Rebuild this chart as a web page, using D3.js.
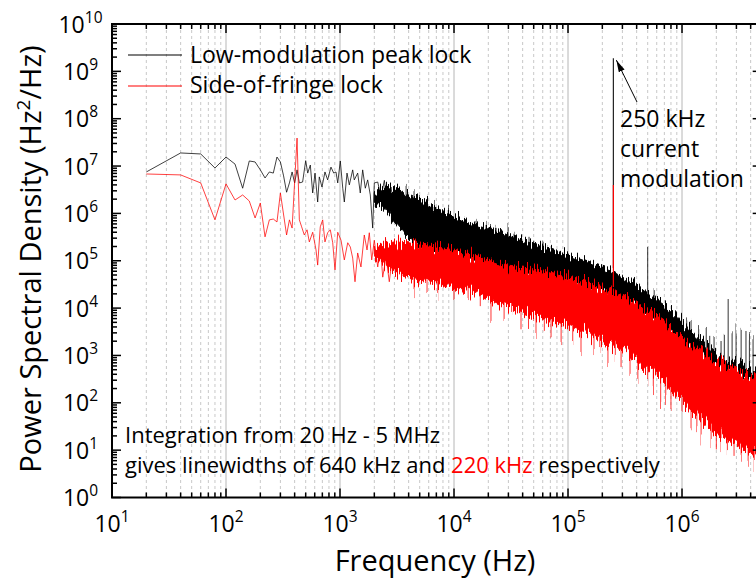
<!DOCTYPE html>
<html><head><meta charset="utf-8">
<script src="https://cdn.jsdelivr.net/npm/d3@7"></script>
<style>
body{margin:0;background:#fff}
svg{display:block}
text{font-family:"Open Sans","Noto Sans",sans-serif;fill:#000}
</style>
</head><body>
<svg id="chart" width="756" height="582"></svg>
<script>
// ---------------- data ----------------
const xDecades = [1e1, 1e2, 1e3, 1e4, 1e5, 1e6];
const xDecadeExp = ["1", "2", "3", "4", "5", "6"];
const yDecades = [1e0, 1e1, 1e2, 1e3, 1e4, 1e5, 1e6, 1e7, 1e8, 1e9, 1e10];
const yDecadeExp = ["0", "1", "2", "3", "4", "5", "6", "7", "8", "9", "10"];
const minorMultipliers = [2, 3, 4, 5, 6, 7, 8, 9];

const seriesNames = ["Low-modulation peak lock", "Side-of-fringe lock"];
const seriesColors = ["#000000", "#ff0000"];

// low-frequency resolved trace, black (Hz, Hz^2/Hz)
const blackLineF = [20,40,60,80,100,120,140,160,180,200,220,240,260,280,300,320,340,360,380,400,420,440,470,500,521,549,576,604,637,658,695,738,779,833,881,922,955,1006,1057,1091,1152,1207,1292,1334,1429,1506,1581,1667,1749,1844,1935,2000,2142,2290,2450,2600,2800,3000];
const blackLineP = [7.5e6,1.89e7,1.8e7,9.1e6,1.55e7,1.1e7,3.4e6,1.28e7,1.22e7,8.3e6,5.6e6,7.5e6,7.1e6,1.55e7,1.22e7,6.2e6,2.8e6,4.4e6,7.5e6,4.4e6,8.3e6,4.4e6,4.6e6,1.3e7,7.1e6,1.05e7,2.7e6,7.1e6,1.74e6,5.9e6,3.6e6,7.5e6,5.1e6,9.5e6,7.1e6,7.5e6,4.4e6,1.28e7,3.4e6,1.74e6,7.1e6,4.0e6,8.3e6,5.1e6,7.1e6,2.7e6,8.3e6,3.4e6,5.1e6,2.45e6,4.9e5,4.4e6,4.6e6,2.2e6,5.0e6,1.5e6,3.6e6,1.2e6];

// low-frequency resolved trace, red
const redLineF = [20,40,60,80,100,120,140,160,180,200,220,240,260,280,300,340,360,380,420,440,461,486,514,538,576,616,637,671,705,738,779,822,863,904,955,1021,1091,1169,1232,1292,1354,1429,1527,1633,1726,1807,1897,2000,2142,2259,2371,2535,2706,2994,3206,3428];
const redLineP = [6.8e6,6.5e6,4.4e6,7.3e5,4.2e6,1.92e6,2.45e6,1.83e6,8.0e5,1.66e6,3.2e5,7.3e5,7.6e5,6.6e5,2.7e6,3.5e5,7.3e5,4.9e5,3.9e7,7.3e5,5.2e5,3.5e5,4.5e5,2.5e5,4.0e5,1.69e5,8.1e4,5.2e5,7.3e5,2.5e5,3.9e5,4.5e5,2.4e5,6.4e4,4.0e5,2.7e5,1.04e5,2.4e5,1.95e5,1.14e5,3.6e4,1.46e5,7.4e4,3.5e5,1.69e5,3.9e5,1.04e5,2.7e5,7.4e4,1.95e5,4.5e4,1.2e5,3.6e4,2.5e5,7.4e4,1.69e5];

// dense high-frequency noise band (upper / lower envelopes)
const bandF = [2e3,2.5e3,3e3,4e3,5e3,6e3,7e3,8e3,1e4,1.2e4,1.5e4,2e4,2.5e4,3e4,4e4,5e4,6e4,7e4,8e4,1e5,1.2e5,1.5e5,2e5,2.5e5,3e5,4e5,5e5,6e5,7e5,8e5,1e6,1.2e6,1.5e6,2e6,2.5e6,3e6,4e6,5e6];
const blackHi = [3.2e6,3.6e6,3.3e6,2.45e6,1.92e6,1.5e6,1.18e6,1.02e6,9.2e5,7.3e5,6.0e5,4.9e5,4.0e5,3.5e5,2.7e5,2.26e5,1.95e5,1.77e5,1.6e5,1.32e5,1.14e5,9.4e4,7.0e4,5.8e4,4.5e4,3.1e4,2.0e4,1.48e4,1.16e4,9.1e3,5.1e3,3.1e3,1.92e3,1.07e3,8.0e2,6.6e2,5.4e2,4.9e2];
const blackLo = [1.9e6,1.2e6,6.5e5,2.9e5,2.0e5,1.6e5,1.46e5,1.39e5,1.26e5,1.09e5,9.4e4,7.7e4,6.4e4,5.8e4,5.2e4,4.8e4,4.5e4,4.1e4,3.7e4,3.4e4,3.1e4,2.7e4,2.1e4,1.63e4,1.28e4,9.6e3,6.5e3,4.8e3,3.8e3,2.8e3,1.66e3,1.18e3,8.4e2,5.7e2,4.5e2,3.7e2,2.75e2,2.26e2];
const redHi = [1.9e5,2.3e5,2.5e5,2.4e5,2.15e5,2.05e5,1.95e5,1.86e5,1.69e5,1.46e5,1.26e5,1.04e5,8.5e4,7.7e4,7.0e4,6.4e4,6.1e4,5.5e4,5.0e4,4.5e4,4.1e4,3.6e4,2.8e4,2.2e4,1.7e4,1.28e4,8.7e3,6.5e3,5.1e3,3.8e3,2.2e3,1.58e3,1.13e3,7.6e2,6.0e2,4.9e2,3.7e2,3.0e2];
const redLo = [1.2e5,8.0e4,5.8e4,4.5e4,3.9e4,3.6e4,3.4e4,3.1e4,2.7e4,2.4e4,2.1e4,1.63e4,1.28e4,1.1e4,8.3e3,6.8e3,5.9e3,5.3e3,4.8e3,4.2e3,3.6e3,3.0e3,2.1e3,1.58e3,1.24e3,8.0e2,5.4e2,3.7e2,2.75e2,1.86e2,1.04e2,70,43,24,16,12.8,9.1,7.5];

// individual noise spikes sticking out of the bands
const blackSpikeF = [3.8e3,4.46e3,6.7e3,8.9e3,1.56e4,1.91e4,2.34e4,2.98e4,3.36e4,4.55e4,5.0e4,6.04e4,8.2e4,1.13e5,1.44e5,1.83e5,2.75e5,3.36e5,3.8e5,5.0e5,5.7e5,8.0e5,1.1e6,1.2e6,1.4e6,1.63e6,1.75e6,1.91e6,2.2e6,2.35e6,2.54e6,2.75e6,2.98e6,3.3e6,3.64e6,3.9e6,4.2e6,4.6e6];
const blackSpikeTip = [4.4e6,3.1e6,1.66e6,1.18e6,7.3e5,6.3e5,5.2e5,5.7e5,3.9e5,3.2e5,2.5e5,2.4e5,1.69e5,1.2e5,9.0e4,8.1e4,4.5e4,3.6e4,3.4e4,1.95e5,2.4e4,9.1e3,5.5e3,5.1e3,3.6e3,4.4e3,3.0e3,2.45e3,1.83e3,2.6e3,1.48e4,2.8e3,3.4e3,3.0e3,3.8e3,2.2e3,3.1e3,2.6e3];
const blackSpikeBase = [5e5,4e5,1.5e5,1.3e5,9e4,8e4,7e4,6e4,5.5e4,4.8e4,4.8e4,4.5e4,3.7e4,3.2e4,2.8e4,2.3e4,1.5e4,1.2e4,1.0e4,6.5e3,5.5e3,2.8e3,1.4e3,1.2e3,9e2,8e2,7e2,6e2,5.5e2,5e2,4.5e2,4e2,3.7e2,3.3e2,3e2,2.8e2,2.5e2,2.3e2];
const redSpikeF = [4.46e3,5.8e3,7.2e3,1.0e4,1.33e4,1.7e4,2.11e4,2.75e4,3.2e4,3.87e4,4.5e4,5.24e4,6.2e4,7.1e4,8.7e4,1.1e5,1.3e5,1.69e5,1.9e5,2.24e5,2.6e5,2.92e5,3.5e5,4.1e5,5.0e5,5.6e5,6.5e5,7.2e5,8.0e5,1.0e6,1.2e6,1.35e6,1.47e6,1.8e6,2.0e6,2.2e6,2.5e6,2.86e6,3.3e6,3.8e6,4.3e6,4.7e6];
const redSpikeTip = [2.4e4,1.8e4,1.9e4,1.63e4,1.16e4,1.1e4,6.2e3,5.1e3,6.2e3,3.4e3,4.2e3,2.7e3,3.0e3,2.1e3,1.92e3,1.92e3,1.3e3,1.18e3,1.18e3,8.0e2,7.3e2,5.4e2,4.5e2,3.7e2,2.75e2,1.86e2,90,1.04e2,64,48,29,24,16,12.8,12,11.6,9.1,7.2,6.9,5.4,4.2,4.6];
const redSpikeBase = [6e4,5e4,4.5e4,4e4,3.5e4,3e4,2.5e4,2e4,1.8e4,1.5e4,1.3e4,1.2e4,1.1e4,1e4,9e3,8e3,7e3,6e3,5.5e3,5e3,4e3,3.5e3,3e3,2e3,1.5e3,1.2e3,9e2,8e2,6e2,4e2,2.5e2,2e2,1.5e2,1e2,80,70,50,40,35,30,25,22];

// 250 kHz current-modulation line
const modF = 2.5e5;
const blackModTip = 1.9e9, blackModBase = 7e4;
const redModTip = 4.0e6, redModBase = 2.8e4;

const annotationLines = ["250 kHz", "current", "modulation"];
const noteLine1 = "Integration from 20 Hz - 5 MHz";
const noteLine2 = ["gives linewidths of 640 kHz and ", "220 kHz", " respectively"];

// ---------------- drawing ----------------
const svg = d3.select("#chart");
const L = 112, T = 24, B = 497.5, R = 761.7;
const x = d3.scaleLog().domain([10, 5e6]).range([L, R]);
const y = d3.scaleLog().domain([1, 1e10]).range([B, T]);

const xMinors = [];
xDecades.forEach(d => minorMultipliers.forEach(m => { if (d * m <= 5e6) xMinors.push(d * m); }));
const yMinors = [];
yDecades.slice(0, -1).forEach(d => minorMultipliers.forEach(m => yMinors.push(d * m)));

const defs = svg.append("defs");
defs.append("clipPath").attr("id", "plotclip")
  .append("rect").attr("x", L).attr("y", T).attr("width", R - L).attr("height", B - T);
const marker = defs.append("marker").attr("id", "arrow")
  .attr("viewBox", "0 0 12 8").attr("refX", 12).attr("refY", 4)
  .attr("markerWidth", 12).attr("markerHeight", 8).attr("markerUnits", "userSpaceOnUse")
  .attr("orient", "auto");
marker.append("path").attr("d", "M0,0.8 L12,4 L0,7.2 Z").attr("fill", "#000");

// texture filter: column-wise vertical jitter so the dense band edges look like spectral noise
function noiseFilter(id, seed, scale) {
  const f = defs.append("filter").attr("id", id).attr("filterUnits", "userSpaceOnUse")
    .attr("x", 0).attr("y", 0).attr("width", 756).attr("height", 582);
  f.append("feTurbulence").attr("type", "fractalNoise").attr("baseFrequency", "0.7 0.004")
    .attr("numOctaves", 2).attr("seed", seed).attr("result", "n");
  f.append("feColorMatrix").attr("in", "n").attr("type", "matrix")
    .attr("values", "0 0 0 0 0.5  0 1 0 0 0  0 0 1 0 0  0 0 0 0 1").attr("result", "m");
  f.append("feDisplacementMap").attr("in", "SourceGraphic").attr("in2", "m")
    .attr("scale", scale).attr("xChannelSelector", "R").attr("yChannelSelector", "G");
}
noiseFilter("noiseK", 3, 26);
noiseFilter("noiseR", 7, 30);

// grid
const grid = svg.append("g");
grid.selectAll("line.minor").data(xMinors).join("line")
  .attr("x1", d => x(d)).attr("x2", d => x(d)).attr("y1", T).attr("y2", B)
  .attr("stroke", "#c8c8c8").attr("stroke-width", 1).attr("stroke-dasharray", "3,3");
grid.selectAll("line.major").data(xDecades.slice(1)).join("line")
  .attr("x1", d => x(d)).attr("x2", d => x(d)).attr("y1", T).attr("y2", B)
  .attr("stroke", "#cfcfcf").attr("stroke-width", 1.5);

const plot = svg.append("g").attr("clip-path", "url(#plotclip)");
const line = d3.line().x(d => x(d[0])).y(d => y(d[1]));
const area = d3.area().x(d => x(d[0])).y0(d => y(d[1])).y1(d => y(d[2]));

function drawSeries(color, filterId, lf, lp, lo, hi, sf, stip, sbase, modTip, modBase, modColor) {
  const g = plot.append("g");
  g.append("line").attr("x1", x(modF)).attr("x2", x(modF))
    .attr("y1", y(modTip)).attr("y2", y(modBase))
    .attr("stroke", modColor).attr("stroke-width", 1.2);
  g.append("path").datum(d3.zip(lf, lp)).attr("d", line)
    .attr("fill", "none").attr("stroke", color).attr("stroke-width", 1).attr("stroke-opacity", 0.75);
  const band = g.append("g").attr("filter", `url(#${filterId})`);
  band.append("path").datum(d3.zip(bandF, lo, hi)).attr("d", area)
    .attr("fill", color).attr("stroke", color).attr("stroke-width", 1);
  band.selectAll("line.spike").data(d3.zip(sf, stip, sbase)).join("line")
    .attr("x1", d => x(d[0])).attr("x2", d => x(d[0]))
    .attr("y1", d => y(d[1])).attr("y2", d => y(d[2]))
    .attr("stroke", color).attr("stroke-width", 1).attr("stroke-opacity", 0.8);
}
drawSeries(seriesColors[0], "noiseK", blackLineF, blackLineP, blackLo, blackHi,
  blackSpikeF, blackSpikeTip, blackSpikeBase, blackModTip, blackModBase, "#222");
drawSeries(seriesColors[1], "noiseR", redLineF, redLineP, redLo, redHi,
  redSpikeF, redSpikeTip, redSpikeBase, redModTip, redModBase, "#ff0000");

// frame & ticks
const axes = svg.append("g").attr("stroke", "#000");
axes.append("rect").attr("x", L).attr("y", T).attr("width", R - L).attr("height", B - T)
  .attr("fill", "none").attr("stroke-width", 2);
function xTicks(vals, len) {
  axes.selectAll(null).data(vals).join("line")
    .attr("x1", d => x(d)).attr("x2", d => x(d)).attr("y1", B).attr("y2", B - len).attr("stroke-width", 1.5);
  axes.selectAll(null).data(vals).join("line")
    .attr("x1", d => x(d)).attr("x2", d => x(d)).attr("y1", T).attr("y2", T + len).attr("stroke-width", 1.5);
}
function yTicks(vals, len) {
  axes.selectAll(null).data(vals).join("line")
    .attr("y1", d => y(d)).attr("y2", d => y(d)).attr("x1", L).attr("x2", L + len).attr("stroke-width", 1.5);
  axes.selectAll(null).data(vals).join("line")
    .attr("y1", d => y(d)).attr("y2", d => y(d)).attr("x1", R).attr("x2", R - len).attr("stroke-width", 1.5);
}
xTicks(xDecades, 9); xTicks(xMinors, 5);
yTicks(yDecades, 9); yTicks(yMinors, 5);

// tick labels
const xl = svg.append("g").selectAll("text").data(d3.zip(xDecades, xDecadeExp)).join("text")
  .attr("x", d => x(d[0])).attr("y", 532).attr("text-anchor", "middle").attr("font-size", 23);
xl.append("tspan").text("10");
xl.append("tspan").attr("dy", -10).attr("font-size", 15.5).text(d => d[1]);

const yl = svg.append("g").selectAll("text").data(d3.zip(yDecades, yDecadeExp)).join("text")
  .attr("x", 80.5).attr("y", d => y(d[0]) + 8.5).attr("text-anchor", "middle").attr("font-size", 23);
yl.append("tspan").text("10");
yl.append("tspan").attr("dy", -10).attr("font-size", 15.5).text(d => d[1]);

// axis titles
svg.append("text").attr("x", 435).attr("y", 571).attr("text-anchor", "middle")
  .attr("font-size", 29).text("Frequency (Hz)");
const yt = svg.append("text").attr("transform", "translate(41,259) rotate(-90)")
  .attr("text-anchor", "middle").attr("font-size", 29);
yt.append("tspan").text("Power Spectral Density (Hz");
yt.append("tspan").attr("dy", -11).attr("font-size", 19).text("2");
yt.append("tspan").attr("dy", 11).text("/Hz)");

// legend
const lg = svg.append("g").selectAll("g").data(d3.zip(seriesNames, seriesColors)).join("g");
lg.append("line").attr("x1", 128).attr("x2", 182)
  .attr("y1", (d, i) => 55 + i * 31).attr("y2", (d, i) => 55 + i * 31)
  .attr("stroke", d => d[1]).attr("stroke-width", 1.2);
lg.append("text").attr("x", 190).attr("y", (d, i) => 63 + i * 30).attr("font-size", 23).text(d => d[0]);

// annotation
svg.append("g").selectAll("text").data(annotationLines).join("text")
  .attr("x", 620).attr("y", (d, i) => 127 + i * 30).attr("font-size", 23).text(d => d);
svg.append("line").attr("x1", 637).attr("y1", 102).attr("x2", x(modF) + 3).attr("y2", y(blackModTip) + 2)
  .attr("stroke", "#000").attr("stroke-width", 1).attr("marker-end", "url(#arrow)");

// integration note
svg.append("text").attr("x", 125).attr("y", 443).attr("font-size", 22).text(noteLine1);
const n2 = svg.append("text").attr("x", 125).attr("y", 473).attr("font-size", 22);
n2.append("tspan").text(noteLine2[0]);
n2.append("tspan").attr("fill", "#ff0000").style("fill", "#ff0000").text(noteLine2[1]);
n2.append("tspan").text(noteLine2[2]);
</script>
</body></html>
